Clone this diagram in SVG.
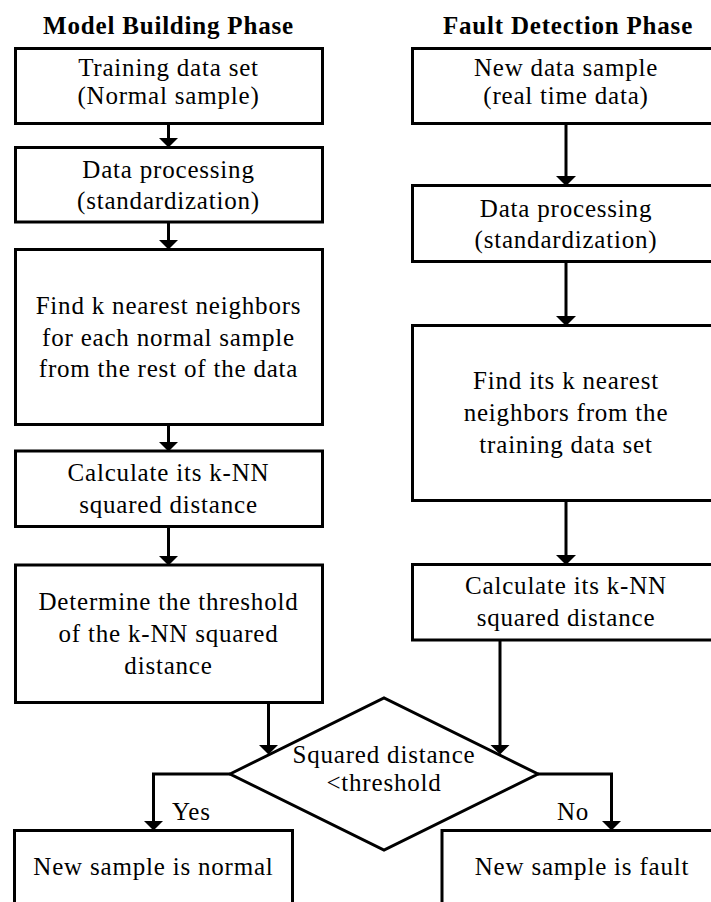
<svg xmlns="http://www.w3.org/2000/svg" width="711" height="902" viewBox="0 0 711 902">
<style>
  .box{fill:#fff;stroke:#000;stroke-width:3}
  text{font-family:'Liberation Serif','DejaVu Serif',serif;font-size:25px;letter-spacing:0.8px;fill:#000;text-anchor:middle}
  .h{font-weight:bold}
  .s{text-anchor:start}
  .c{fill:none;stroke:#000;stroke-width:3}
</style>
<defs>
  <marker id="ah" markerUnits="userSpaceOnUse" markerWidth="10" markerHeight="20" viewBox="0 0 10 20" refX="7" refY="10" orient="auto">
    <path d="M0,0 L10,10 L0,20 Z" fill="#000"/>
  </marker>
</defs>
<rect width="711" height="902" fill="#fff"/>

<g id="titles" font-family="Liberation Serif, serif">
  <text class="h" x="168.5" y="34">Model Building Phase</text>
  <text class="h" x="568" y="34">Fault Detection Phase</text>
</g>

<g id="connectors" font-family="Liberation Serif, serif">
  <path class="c" d="M168.5,124 V144.5" marker-end="url(#ah)"/>
  <path class="c" d="M168.5,222 V246.5" marker-end="url(#ah)"/>
  <path class="c" d="M168.5,424.5 V448.5" marker-end="url(#ah)"/>
  <path class="c" d="M168.5,527 V562.5" marker-end="url(#ah)"/>
  <path class="c" d="M268.5,702.5 V751.5" marker-end="url(#ah)"/>
  <path class="c" d="M566,124 V183" marker-end="url(#ah)"/>
  <path class="c" d="M566,262 V323" marker-end="url(#ah)"/>
  <path class="c" d="M566,501 V562" marker-end="url(#ah)"/>
  <path class="c" d="M500,640 V751.5" marker-end="url(#ah)"/>
  <path class="c" d="M230,774 H153.5 V827.5" marker-end="url(#ah)"/>
  <path class="c" d="M538,774 H611.5 V827.5" marker-end="url(#ah)"/>
  <text class="s" x="172" y="820">Yes</text>
  <text class="s" x="557" y="820">No</text>
</g>

<g id="nodes" font-family="Liberation Serif, serif">
<g id="train">
  <rect class="box" x="15.5" y="48.5" width="307" height="75"/>
  <text x="168.5" y="75.5">Training data set</text>
  <text x="168.5" y="103.5">(Normal sample)</text>
</g>
<g id="proc1">
  <rect class="box" x="15.5" y="147.5" width="307" height="74.5"/>
  <text x="168.5" y="177.5">Data processing</text>
  <text x="168.5" y="208.5">(standardization)</text>
</g>
<g id="findk1">
  <rect class="box" x="15.5" y="249.5" width="307" height="175"/>
  <text x="168.5" y="314">Find k nearest neighbors</text>
  <text x="168.5" y="345.5">for each normal sample</text>
  <text x="168.5" y="377">from the rest of the data</text>
</g>
<g id="calc1">
  <rect class="box" x="15.5" y="451" width="307" height="75.5"/>
  <text x="168.5" y="481">Calculate its k-NN</text>
  <text x="168.5" y="513">squared distance</text>
</g>
<g id="thresh">
  <rect class="box" x="15.5" y="565" width="307" height="137.5"/>
  <text x="168.5" y="610">Determine the threshold</text>
  <text x="168.5" y="641.5">of the k-NN squared</text>
  <text x="168.5" y="673.5">distance</text>
</g>

<g id="newdata">
  <rect class="box" x="412.5" y="48.5" width="307" height="75"/>
  <text x="566" y="75.5">New data sample</text>
  <text x="566" y="103.5">(real time data)</text>
</g>
<g id="proc2">
  <rect class="box" x="412.5" y="185.5" width="307" height="76"/>
  <text x="566" y="216.5">Data processing</text>
  <text x="566" y="248">(standardization)</text>
</g>
<g id="findk2">
  <rect class="box" x="412.5" y="325.5" width="307" height="175"/>
  <text x="566" y="389">Find its k nearest</text>
  <text x="566" y="421">neighbors from the</text>
  <text x="566" y="452.5">training data set</text>
</g>
<g id="calc2">
  <rect class="box" x="412.5" y="564.5" width="307" height="75.5"/>
  <text x="566" y="594">Calculate its k-NN</text>
  <text x="566" y="626">squared distance</text>
</g>

<g id="decision">
  <polygon class="box" points="230,774 384,698 538,774 384,850"/>
  <text x="384" y="763">Squared distance</text>
  <text x="384" y="791">&lt;threshold</text>
</g>

<g id="normal">
  <rect class="box" x="14.5" y="830.5" width="278" height="100"/>
  <text x="153.5" y="875">New sample is normal</text>
</g>
<g id="fault">
  <rect class="box" x="442" y="830.5" width="340" height="100"/>
  <text x="582" y="875">New sample is fault</text>
</g>
</g>
</svg>
